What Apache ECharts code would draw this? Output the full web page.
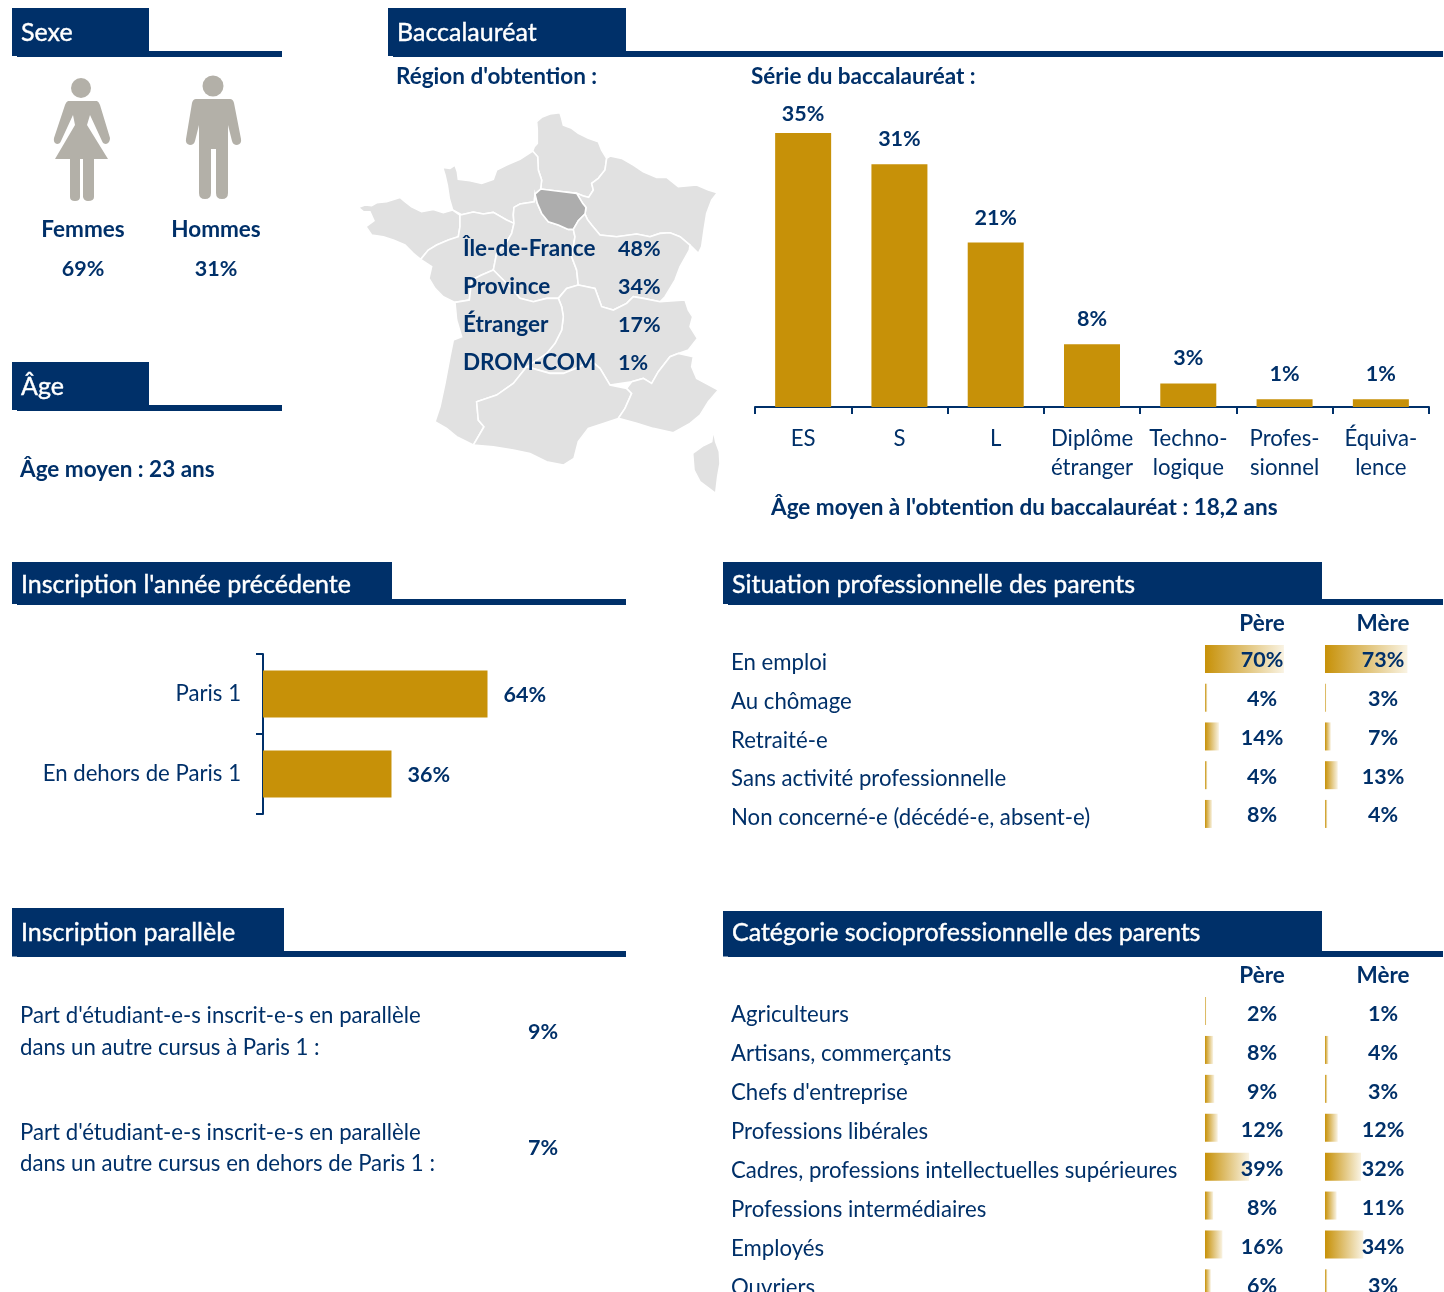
<!DOCTYPE html>
<html lang="fr">
<head>
<meta charset="utf-8">
<title>Profil des étudiant-e-s</title>
<style>
  html, body { margin: 0; padding: 0; background: #fff; overflow: hidden; }
  #chart { width: 1444px; height: 1292px; }
</style>
</head>
<body>
<div id="chart"></div>
<script src="https://cdn.jsdelivr.net/npm/echarts@6/dist/echarts.min.js"></script>
<script>
// valeurs
const sexeLabels = ['Femmes', 'Hommes']
const sexeValues = [69, 31]

const regionLabels = ['Île-de-France', 'Province', 'Étranger', 'DROM-COM']
const regionValues = [48, 34, 17, 1]

const bacCategories = ['ES', 'S', 'L', 'Diplôme\nétranger', 'Techno-\nlogique', 'Profes-\nsionnel', 'Équiva-\nlence']
const bacValues = [35, 31, 21, 8, 3, 1, 1]

const inscriptionCategories = ['Paris 1', 'En dehors de Paris 1']
const inscriptionValues = [63.6, 36.4]

const situationCategories = ['En emploi', 'Au chômage', 'Retraité-e', 'Sans activité professionnelle', 'Non concerné-e (décédé-e, absent-e)']
const situationPere = [70, 4, 14, 4, 8]
const situationMere = [73, 3, 7, 13, 4]

const cspCategories = ['Agriculteurs', 'Artisans, commerçants', "Chefs d'entreprise", 'Professions libérales', 'Cadres, professions intellectuelles supérieures', 'Professions intermédiaires', 'Employés', 'Ouvriers']
const cspPere = [2, 8, 9, 12, 39, 8, 16, 6]
const cspMere = [1, 4, 3, 12, 32, 11, 34, 3]

const paralleleLines = [
  ["Part d'étudiant-e-s inscrit-e-s en parallèle", 'dans un autre cursus à Paris 1 :'],
  ["Part d'étudiant-e-s inscrit-e-s en parallèle", 'dans un autre cursus en dehors de Paris 1 :'],
]
const paralleleValues = [9, 7]

const mapRegions = {
  'Hauts-de-France': [[548,183],[553,170],[562,160],[562,120],[560,95],[575,82],[600,72],[630,68],[635,85],[640,105],[665,115],[685,130],[715,145],[745,155],[755,180],[770,205],[765,240],[745,265],[725,280],[730,300],[716,322],[700,318],[680,310],[620,303],[572,297],[575,270],[565,240],[563,200]],
  'Grand Est': [[770,205],[780,198],[815,205],[850,225],[880,245],[920,262],[950,262],[985,290],[1040,285],[1075,300],[1102,308],[1085,330],[1070,370],[1062,420],[1055,470],[1045,490],[1020,465],[990,440],[960,428],[930,430],[900,440],[860,432],[800,440],[750,435],[725,405],[712,388],[705,372],[708,352],[698,340],[680,310],[700,318],[716,322],[730,300],[725,280],[745,265],[765,240]],
  'Normandie': [[278,232],[300,235],[315,225],[322,245],[325,268],[360,272],[395,280],[430,268],[440,240],[470,225],[510,208],[548,183],[563,200],[565,240],[575,270],[572,297],[555,312],[553,335],[510,342],[492,352],[490,375],[492,400],[470,390],[430,367],[400,372],[370,366],[335,374],[308,360],[298,325],[292,285],[285,255]],
  'Bretagne': [[25,352],[45,345],[65,347],[80,338],[110,335],[150,322],[165,335],[185,350],[215,365],[250,358],[280,368],[308,360],[330,375],[330,410],[325,440],[295,450],[260,465],[235,480],[212,508],[190,490],[165,465],[130,450],[100,440],[65,435],[48,410],[72,392],[60,365],[40,365]],
  'Pays de la Loire': [[330,375],[335,374],[370,366],[400,372],[430,367],[470,390],[492,400],[485,430],[462,470],[440,490],[430,540],[395,555],[365,570],[358,630],[315,637],[280,620],[255,595],[237,565],[245,530],[212,508],[235,480],[260,465],[295,450],[325,440],[330,410]],
  'Centre-Val de Loire': [[492,352],[510,342],[553,335],[555,312],[562,340],[575,370],[595,395],[625,405],[655,418],[670,418],[675,440],[665,500],[680,540],[685,585],[650,595],[625,625],[590,625],[550,635],[510,625],[480,590],[430,540],[440,490],[462,470],[485,430],[492,400],[490,375]],
  'Île-de-France': [[555,312],[572,297],[620,303],[680,310],[698,340],[708,352],[705,372],[685,392],[670,418],[655,418],[625,405],[595,395],[575,370],[562,340]],
  'Bourgogne-Franche-Comté': [[670,418],[685,392],[705,372],[712,388],[725,405],[750,435],[800,440],[860,432],[900,440],[930,430],[960,428],[990,440],[1020,465],[1018,480],[990,530],[975,570],[945,620],[930,635],[880,625],[850,620],[830,640],[790,660],[755,650],[735,595],[685,585],[680,540],[665,500],[675,440]],
  'Auvergne-Rhône-Alpes': [[625,625],[650,595],[685,585],[735,595],[755,650],[790,660],[830,640],[850,620],[880,625],[930,635],[1005,630],[1015,660],[1028,680],[1020,710],[1042,745],[1015,780],[985,790],[960,800],[925,845],[905,880],[880,865],[845,875],[780,885],[750,835],[720,810],[690,830],[640,850],[600,850],[530,830],[590,790],[615,760],[635,720],[640,680],[635,650]],
  'Nouvelle-Aquitaine': [[315,637],[358,630],[365,570],[395,555],[430,540],[480,590],[510,625],[550,635],[590,625],[625,625],[635,650],[640,680],[635,720],[615,760],[590,790],[530,830],[490,880],[440,915],[380,935],[385,990],[402,1010],[370,1065],[320,1040],[290,1015],[255,995],[270,950],[285,880],[300,800],[310,750],[335,740],[320,690]],
  'Occitanie': [[380,935],[440,915],[490,880],[530,830],[600,850],[640,850],[690,830],[720,810],[750,835],[780,885],[830,895],[845,910],[825,955],[805,985],[760,1000],[715,1015],[685,1055],[672,1105],[640,1125],[590,1115],[540,1090],[490,1080],[430,1070],[370,1065],[402,1010],[385,990]],
  "Provence-Alpes-Côte d'Azur": [[830,895],[845,875],[880,865],[905,880],[925,845],[960,800],[985,790],[1030,800],[1025,830],[1040,865],[1105,900],[1075,935],[1050,975],[1020,1000],[970,1028],[910,1015],[860,1000],[805,985],[825,955],[845,910]],
  'Corse': [[1090,1020],[1097,1055],[1108,1085],[1110,1120],[1103,1160],[1097,1210],[1070,1190],[1050,1175],[1032,1140],[1028,1090],[1058,1068],[1085,1055]],
}

const NAVY = '#003069'
const GOLD = '#c79108'
const FONT = 'Lato, Carlito, Calibri, sans-serif'
const BOLD = 22.5
const NUM = 21.5
const REG = 22.2

const chart = echarts.init(document.getElementById('chart'), null, { renderer: 'canvas' })

// carte : les coordonnées sont celles du relevé, d'où la projection identité
const features = Object.keys(mapRegions).map((name) => ({
  type: 'Feature',
  properties: { name },
  geometry: { type: 'Polygon', coordinates: [[...mapRegions[name], mapRegions[name][0]]] },
}))
echarts.registerMap('france', { type: 'FeatureCollection', features })

function text(str, x, y, opts = {}) {
  return {
    type: 'text',
    silent: true,
    z: 20,
    x,
    y: y + 1,
    style: {
      text: str,
      fill: opts.fill || NAVY,
      stroke: opts.stroke,
      lineWidth: opts.stroke ? 0.4 : 0,
      font: `${opts.bold === false ? 'normal' : 'bold'} ${opts.size || BOLD}px ${FONT}`,
      align: opts.align || 'left',
      verticalAlign: 'middle',
    },
  }
}

function banner(title, x, y, w, lineEnd, h, lineY, titleY) {
  return [
    { type: 'rect', silent: true, z: 10, shape: { x, y, width: w, height: h }, style: { fill: NAVY } },
    { type: 'rect', silent: true, z: 10, shape: { x: x + 5, y: lineY, width: lineEnd - x - 5, height: 6 }, style: { fill: NAVY } },
    text(title, x + 9, titleY, { fill: '#fff', stroke: '#fff', bold: false, size: 25 }),
  ]
}

const womanPath = 'M68,101 L97,101 Q99,102 100,105 L110,138 Q110,143 106,144 Q103,144 102,141 L90,115 L87,125 L108,159 L94,159 L94,197 Q94,201 88,201 Q84,201 83,197 L83,159 L80,159 L80,197 Q80,201 75,201 Q70,201 70,197 L70,159 L55,159 L75,125 L73,115 L61,141 Q60,144 57,144 Q53,143 54,138 L65,105 Q66,102 68,101 Z'
const manPath = 'M196,99 L230,99 Q233,99 234,103 L241,139 Q242,144 237,145 Q233,145 232,141 L228,125 L228,193 Q228,199 222,199 Q216,199 216,193 L216,149 L211,149 L211,193 Q211,199 205,199 Q199,199 199,193 L199,125 L195,141 Q194,145 190,145 Q185,144 186,139 L192,103 Q193,99 196,99 Z'
echarts.graphic.registerShape('femme', echarts.graphic.extendPath(womanPath))
echarts.graphic.registerShape('homme', echarts.graphic.extendPath(manPath))

const graphics = [
  ...banner('Sexe', 12, 8, 137, 282, 48, 51, 32),
  ...banner('Baccalauréat', 388, 8, 238, 1443, 48, 51, 32),
  ...banner('Âge', 12, 362, 137, 282, 48, 405, 386),
  ...banner("Inscription l'année précédente", 12, 562, 380, 626, 42, 599, 584),
  ...banner('Situation professionnelle des parents', 723, 562, 599, 1443, 42, 599, 584),
  ...banner('Inscription parallèle', 12, 908, 272, 626, 48.5, 951, 932),
  ...banner('Catégorie socioprofessionnelle des parents', 723, 911, 599, 1443, 45.5, 951, 932),

  { type: 'circle', silent: true, shape: { cx: 81, cy: 88, r: 10 }, style: { fill: '#b3b0a8' } },
  { type: 'femme', silent: true, style: { fill: '#b3b0a8' } },
  { type: 'circle', silent: true, shape: { cx: 213, cy: 86, r: 10.5 }, style: { fill: '#b3b0a8' } },
  { type: 'homme', silent: true, style: { fill: '#b3b0a8' } },

  text(sexeLabels[0], 83, 229, { align: 'center' }),
  text(sexeLabels[1], 216, 229, { align: 'center' }),
  text(sexeValues[0] + '%', 83, 268, { align: 'center', size: NUM }),
  text(sexeValues[1] + '%', 216, 268, { align: 'center', size: NUM }),

  text('Âge moyen : 23 ans', 20, 469),
  text("Région d'obtention :", 396, 76),
  text('Série du baccalauréat :', 751, 76),
  text("Âge moyen à l'obtention du baccalauréat : 18,2 ans", 771, 507),

  ...regionLabels.map((s, i) => text(s, 463, 248 + i * 38, {})),
  ...regionValues.map((v, i) => text(v + '%', 618, 248 + i * 38, { size: NUM })),

  text('Père', 1262, 623, { align: 'center' }),
  text('Mère', 1383, 623, { align: 'center' }),
  text('Père', 1262, 975, { align: 'center' }),
  text('Mère', 1383, 975, { align: 'center' }),

  text(paralleleLines[0][0], 20, 1015, { bold: false, size: REG }),
  text(paralleleLines[0][1], 20, 1047, { bold: false, size: REG }),
  text(paralleleLines[1][0], 20, 1132, { bold: false, size: REG }),
  text(paralleleLines[1][1], 20, 1163, { bold: false, size: REG }),
  text(paralleleValues[0] + '%', 543, 1031, { align: 'center', size: NUM }),
  text(paralleleValues[1] + '%', 543, 1147, { align: 'center', size: NUM }),
]

const dataBarColor = {
  type: 'linear', x: 0, y: 0, x2: 1, y2: 0,
  colorStops: [{ offset: 0, color: GOLD }, { offset: 1, color: '#f9f3e3' }],
}

// barres de données façon Excel : elles partent du min de l'axe
function tableSeries(data, idx, labelOffset, labelY) {
  return {
    type: 'bar',
    xAxisIndex: idx,
    yAxisIndex: idx,
    data,
    barWidth: 28,
    itemStyle: { color: dataBarColor },
    silent: true,
    z: 3,
    label: {
      show: true,
      position: [labelOffset, labelY],
      align: 'center',
      verticalAlign: 'middle',
      formatter: '{c}%',
      color: NAVY,
      fontFamily: FONT,
      fontWeight: 'bold',
      fontSize: NUM,
    },
  }
}

// la dernière ligne du tableau déborde du bas de la page, comme sur l'original
const tableGrids = [
  { left: 1205, top: 639.6, width: 82.4, height: 193.7, outerBoundsMode: 'none' },
  { left: 1325, top: 639.6, width: 82.4, height: 193.7, outerBoundsMode: 'none' },
  { left: 1205, top: 991.6, width: 44.1, height: 311.2, outerBoundsMode: 'none' },
  { left: 1325, top: 991.6, width: 44.1, height: 311.2, outerBoundsMode: 'none' },
]
const tableAxisRange = [[2, 73], [2, 73], [1, 39], [1, 39]]
const tableCats = [situationCategories, situationCategories, cspCategories, cspCategories]

const option = {
  animation: false,
  backgroundColor: '#fff',
  graphic: { elements: graphics },
  geo: {
    map: 'france',
    projection: { project: (p) => p, unproject: (p) => p },
    left: 358.3,
    top: 112.7,
    width: 361.7,
    height: 380.7,
    silent: true,
    z: 1,
    label: { show: false },
    itemStyle: { areaColor: '#e1e1e1', borderColor: '#fff', borderWidth: 1.6 },
    regions: [{ name: 'Île-de-France', itemStyle: { areaColor: '#adadad' } }],
  },
  grid: [
    { left: 755, top: 133, width: 674, height: 274 },
    { left: 263, top: 654, width: 353, height: 160 },
    ...tableGrids,
  ],
  xAxis: [
    {
      gridIndex: 0,
      type: 'category',
      data: bacCategories,
      axisLine: { lineStyle: { color: NAVY, width: 2 } },
      axisTick: { show: true, length: 7, lineStyle: { color: NAVY, width: 2 } },
      axisLabel: { color: NAVY, fontFamily: FONT, fontSize: REG, lineHeight: 29, margin: 17, interval: 0 },
    },
    { gridIndex: 1, type: 'value', min: 0, max: 100, show: false },
    ...tableAxisRange.map((r, i) => ({ gridIndex: i + 2, type: 'value', min: r[0], max: r[1], show: false })),
  ],
  yAxis: [
    { gridIndex: 0, type: 'value', min: 0, max: 35, show: false },
    {
      gridIndex: 1,
      type: 'category',
      inverse: true,
      data: inscriptionCategories,
      axisLine: { lineStyle: { color: NAVY, width: 2 } },
      axisTick: { show: true, length: 7, lineStyle: { color: NAVY, width: 2 } },
      axisLabel: { color: NAVY, fontFamily: FONT, fontSize: REG, margin: 22 },
    },
    ...tableCats.map((cats, i) => ({
      gridIndex: i + 2,
      type: 'category',
      inverse: true,
      data: cats,
      axisLine: { show: false },
      axisTick: { show: false },
      // seule la colonne Père porte les libellés de ligne
      axisLabel: i % 2 === 0
        ? {
            show: true, align: 'left', margin: 474, interval: 0,
            formatter: (v) => `{row|${v}}`,
            rich: { row: { color: NAVY, fontFamily: FONT, fontSize: REG, padding: [8, 0, 0, 0] } },
          }
        : { show: false },
    })),
  ],
  series: [
    {
      type: 'bar',
      xAxisIndex: 0,
      yAxisIndex: 0,
      // le 35 % est plus près de sa barre que les autres sur l'original
      data: bacValues.map((v, i) => (i === 0 ? { value: v, label: { distance: 8 } } : v)),
      barWidth: 56,
      silent: true,
      itemStyle: { color: GOLD },
      label: {
        show: true, position: 'top', distance: 14, formatter: '{c}%',
        color: NAVY, fontFamily: FONT, fontWeight: 'bold', fontSize: NUM,
      },
    },
    {
      type: 'bar',
      xAxisIndex: 1,
      yAxisIndex: 1,
      data: inscriptionValues,
      barWidth: 47,
      silent: true,
      itemStyle: { color: GOLD },
      label: {
        show: true, position: 'right', distance: 16, offset: [0, 1],
        formatter: (p) => Math.round(p.value) + '%',
        color: NAVY, fontFamily: FONT, fontWeight: 'bold', fontSize: NUM,
      },
    },
    tableSeries(situationPere, 2, 57, '55%'),
    tableSeries(situationMere, 3, 58, '55%'),
    tableSeries(cspPere, 4, 57, '60%'),
    tableSeries(cspMere, 5, 58, '60%'),
  ],
}

chart.setOption(option)
window.addEventListener('resize', () => chart.resize())
</script>
</body>
</html>
